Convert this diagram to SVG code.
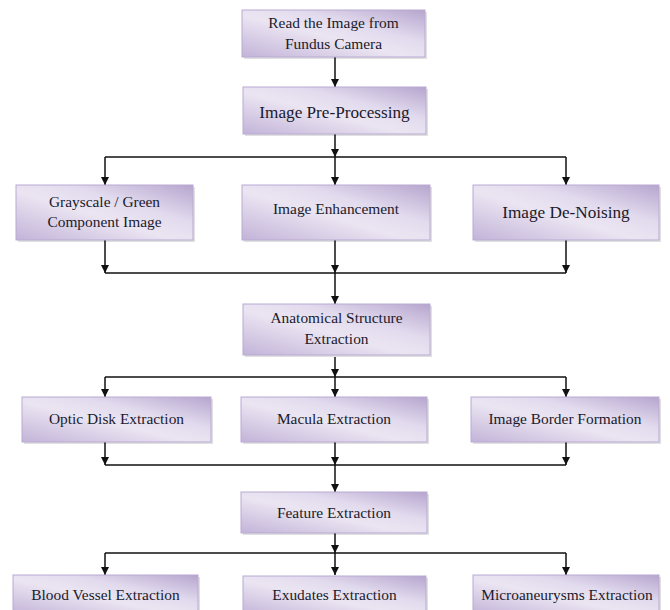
<svg xmlns="http://www.w3.org/2000/svg" width="670" height="610" viewBox="0 0 670 610">
<defs>
<linearGradient id="g" x1="0" y1="1" x2="1" y2="0">
<stop offset="0" stop-color="#c2b3d8"/>
<stop offset="0.45" stop-color="#ebe5f2"/>
<stop offset="0.65" stop-color="#e2dbee"/>
<stop offset="1" stop-color="#b6a5ce"/>
</linearGradient>
<marker id="a" viewBox="0 0 10 10" refX="10" refY="5" markerWidth="8" markerHeight="8" markerUnits="userSpaceOnUse" orient="auto">
<path d="M0,0 L10,5 L0,10 z" fill="#111"/>
</marker>
</defs>
<style>
.box{fill:url(#g);stroke:#b9aad2;stroke-width:1}
.sh{fill:#000;opacity:0.12}
.t{font-size:15.4px;fill:#1a1a2c;text-anchor:middle}
.L{font-size:17.2px}
.c{fill:none;stroke:#111;stroke-width:1.5}
.v{marker-end:url(#a)}
</style>
<g id="connectors" class="c">
<path class="v" d="M335,57 V87"/>
<path class="v" d="M335,134 V157"/>
<path d="M105,157 H566"/>
<path class="v" d="M105,157 V185"/>
<path class="v" d="M335,157 V185"/>
<path class="v" d="M566,157 V185"/>
<path class="v" d="M105,240 V273"/>
<path class="v" d="M335,240 V273"/>
<path class="v" d="M566,240 V273"/>
<path d="M105,273 H566"/>
<path class="v" d="M335,273 V304"/>
<path class="v" d="M335,357 V377"/>
<path d="M105,377 H566"/>
<path class="v" d="M105,377 V397"/>
<path class="v" d="M335,377 V397"/>
<path class="v" d="M566,377 V397"/>
<path class="v" d="M105,442 V465"/>
<path class="v" d="M335,442 V465"/>
<path class="v" d="M566,442 V465"/>
<path d="M105,465 H566"/>
<path class="v" d="M335,465 V492"/>
<path class="v" d="M335,533 V553"/>
<path d="M105,553 H566"/>
<path class="v" d="M105,553 V575"/>
<path class="v" d="M335,553 V575"/>
<path class="v" d="M566,553 V575"/>
</g>
<g font-family="'Liberation Serif', 'DejaVu Serif', 'Times New Roman', serif">
<g id="read">
<rect class="sh" x="244" y="12" width="183" height="47"/>
<rect class="box" x="242" y="10" width="183" height="47"/>
<text class="t" x="333.5" y="28">Read the Image from</text>
<text class="t" x="333.5" y="49">Fundus Camera</text>
</g>
<g id="preprocessing">
<rect class="sh" x="245" y="89" width="183" height="47"/>
<rect class="box" x="243" y="87" width="183" height="47"/>
<text class="t L" x="334.5" y="118">Image Pre-Processing</text>
</g>
<g id="grayscale">
<rect class="sh" x="18" y="187" width="177" height="55"/>
<rect class="box" x="16" y="185" width="177" height="55"/>
<text class="t" x="104.5" y="207">Grayscale / Green</text>
<text class="t" x="104.5" y="227">Component Image</text>
</g>
<g id="enhancement">
<rect class="sh" x="244" y="187" width="188" height="55"/>
<rect class="box" x="242" y="185" width="188" height="55"/>
<text class="t" x="336" y="214">Image Enhancement</text>
</g>
<g id="denoising">
<rect class="sh" x="475" y="187" width="186" height="55"/>
<rect class="box" x="473" y="185" width="186" height="55"/>
<text class="t L" x="566" y="218">Image De-Noising</text>
</g>
<g id="anatomical">
<rect class="sh" x="245" y="306" width="187" height="51"/>
<rect class="box" x="243" y="304" width="187" height="51"/>
<text class="t" x="336.5" y="323">Anatomical Structure</text>
<text class="t" x="336.5" y="344">Extraction</text>
</g>
<g id="optic">
<rect class="sh" x="24" y="399" width="189" height="45"/>
<rect class="box" x="22" y="397" width="189" height="45"/>
<text class="t" x="116.5" y="424">Optic Disk Extraction</text>
</g>
<g id="macula">
<rect class="sh" x="243" y="399" width="186" height="45"/>
<rect class="box" x="241" y="397" width="186" height="45"/>
<text class="t" x="334" y="424">Macula Extraction</text>
</g>
<g id="border">
<rect class="sh" x="473" y="399" width="188" height="45"/>
<rect class="box" x="471" y="397" width="188" height="45"/>
<text class="t" x="565" y="424">Image Border Formation</text>
</g>
<g id="feature">
<rect class="sh" x="243" y="494" width="186" height="41"/>
<rect class="box" x="241" y="492" width="186" height="41"/>
<text class="t" x="334" y="518">Feature Extraction</text>
</g>
<g id="bloodvessel">
<rect class="sh" x="15" y="577" width="185" height="40"/>
<rect class="box" x="13" y="575" width="185" height="40"/>
<text class="t" x="105.5" y="600">Blood Vessel Extraction</text>
</g>
<g id="exudates">
<rect class="sh" x="245" y="578" width="183" height="40"/>
<rect class="box" x="243" y="576" width="183" height="40"/>
<text class="t" x="334.5" y="600">Exudates Extraction</text>
</g>
<g id="micro">
<rect class="sh" x="475" y="577" width="186" height="40"/>
<rect class="box" x="473" y="575" width="186" height="40"/>
<text class="t" x="567" y="600">Microaneurysms Extraction</text>
</g>
</g>
</svg>
